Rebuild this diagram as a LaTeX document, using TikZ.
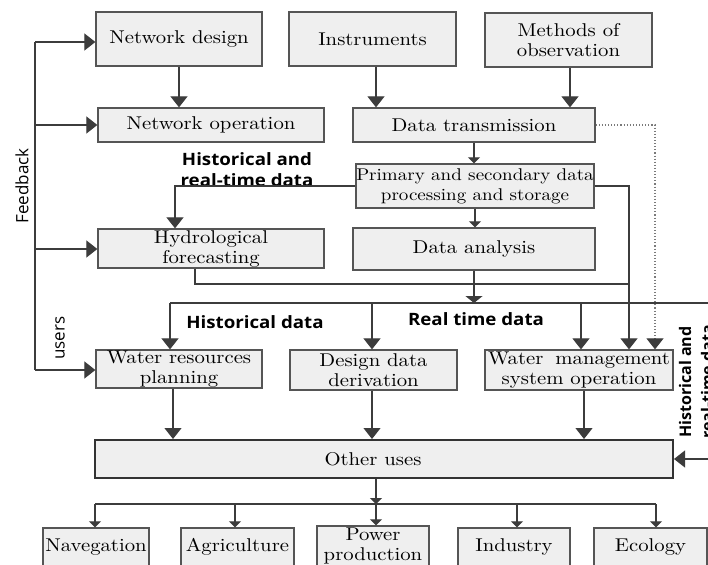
\documentclass[tikz,border=0pt]{standalone}
\usepackage{fontspec}
\newfontfamily\boxfont{lmroman10-regular.otf}[FakeStretch=1.12]
\newfontfamily\labfont{Open Sans}[FakeStretch=1.1]
\newfontfamily\rotfont{Open Sans}
\usetikzlibrary{arrows.meta}
\definecolor{boxfill}{HTML}{EFEFEF}
\definecolor{boxline}{HTML}{555555}
\definecolor{conn}{HTML}{3C3C3C}
\definecolor{dotc}{HTML}{7A7A7A}
\tikzset{
  box/.style={draw=boxline, line width=1.3pt, fill=boxfill, inner sep=0pt, align=center,
    font=\boxfont\fontsize{18.5}{20}\selectfont},
  bigbox/.style={box, draw=black!80, line width=2pt},
  conline/.style={draw=conn, line width=1.1pt},
  bigarrow/.style={conline, -{Triangle[width=17pt,length=11pt]}},
  flatarrow/.style={conline, -{Triangle[width=17pt,length=7pt]}},
  smallarrow/.style={conline, -{Triangle[width=12pt,length=6pt]}},
  lab/.style={font=\labfont\bfseries\fontsize{17}{21}\selectfont, inner sep=0pt, align=center},
  rotlab/.style={font=\rotfont\fontsize{17}{21}\selectfont, inner sep=0pt, rotate=90},
}
\begin{document}
\begin{tikzpicture}[x=1pt,y=-1pt]
\useasboundingbox[fill=white] (0,0) rectangle (708,564);

% top row
\node[box, minimum width=166pt, minimum height=54pt] (nd) at (179,39) {Network design};
\node[box, minimum width=167pt, minimum height=54pt] (ins) at (372.5,39) {Instruments};
\node[box, minimum width=167pt, minimum height=54pt] (mo) at (568.5,40) {Methods of\\observation};
% second row
\node[box, minimum width=226pt, minimum height=34pt] (no) at (211,125) {Network operation};
\node[box, minimum width=242pt, minimum height=34pt] (dt) at (474,125) {Data transmission};
\node[box, minimum width=238pt, minimum height=44pt, font=\boxfont\fontsize{17}{20}\selectfont] (pr) at (475,186) {Primary and secondary data\\processing and storage};
\node[box, minimum width=226pt, minimum height=39pt] (hf) at (211,248.5) {Hydrological\\forecasting};
\node[box, minimum width=242pt, minimum height=42pt] (da) at (474,249) {Data analysis};
% users row
\node[box, minimum width=166pt, minimum height=38pt] (wr) at (179,369) {Water resources\\planning};
\node[box, minimum width=167pt, minimum height=40pt] (dd) at (373.5,370) {Design data\\derivation};
\node[box, minimum width=188pt, minimum height=40pt] (wm) at (579,370) {Water\hspace{12pt}management\\system operation};
\node[bigbox, minimum width=578pt, minimum height=38pt] (ou) at (384,459) {Other uses\hspace*{22pt}};
% bottom row
\node[box, minimum width=106pt, minimum height=38pt] (nav) at (96,547) {Navegation};
\node[box, minimum width=113pt, minimum height=38pt] (agr) at (237.5,547) {Agriculture};
\node[box, minimum width=112pt, minimum height=40pt] (pow) at (373,546) {Power\\production};
\node[box, minimum width=112pt, minimum height=38pt] (ind) at (514,547) {Industry};
\node[box, minimum width=113pt, minimum height=38pt] (eco) at (650.5,547) {Ecology};

% labels
\node[lab] (l1) at (247,170) {Historical and\\real-time data};
\node[lab] (l2) at (255,322) {Historical data};
\node[lab] (l3) at (476,319) {Real time data};
\node[rotlab] (l4) at (22,186) {Feedback};
\node[rotlab] (l5) at (60,338) {users};
\node[lab, rotate=90, font=\rotfont\bfseries\fontsize{16}{22}\selectfont] (l6) at (696,382) {Historical and\\real-time data};

% coordinates
\coordinate (fb1) at (35,42);
\coordinate (fb2) at (35,125);
\coordinate (fb3) at (35,249);
\coordinate (fb4) at (35,370);
\coordinate (x175) at (175,0);
\coordinate (x195) at (195,0);
\coordinate (x629) at (629,0);
\coordinate (x655) at (655,0);
\coordinate (j1) at (629,284);
\coordinate (busL) at (170,303);
\coordinate (busDA) at (474,303);
\coordinate (busD2) at (372,303);
\coordinate (busD3) at (581,303);
\coordinate (busR) at (716,303);
\coordinate (x173) at (173,0);
\coordinate (x372) at (372,0);
\coordinate (x584) at (584,0);
\coordinate (x376) at (376,0);
\coordinate (x570) at (570,0);
\coordinate (bbL) at (95,504);
\coordinate (bbR) at (656,504);
\coordinate (bbM) at (376,504);
\coordinate (bb2) at (235,504);
\coordinate (bb4) at (517,504);

% feedback
\draw[conline] (fb1) -- (fb4);
\draw[bigarrow] (fb1) -- (nd.west |- fb1);
\draw[bigarrow] (fb2) -- (no.west |- fb2);
\draw[bigarrow] (fb3) -- (hf.west |- fb3);
\draw[bigarrow] (fb4) -- (wr.west |- fb4);

% top flows
\draw[bigarrow] (nd.south) -- (nd.south |- no.north);
\draw[bigarrow] (x376 |- ins.south) -- (x376 |- dt.north);
\draw[bigarrow] (x570 |- mo.south) -- (x570 |- dt.north);
\draw[smallarrow] (dt.south) -- (dt.south |- pr.north);
\draw[smallarrow] (pr.south) -- (pr.south |- da.north);
\draw[bigarrow] (pr.west) -| (x175 |- hf.north);
\draw[bigarrow] (pr.east) -| (x629 |- wm.north);
\draw[draw=dotc, line width=1.1pt, dotted, -{Triangle[width=17pt,length=11pt,color=conn]}] (dt.east) -| (x655 |- wm.north);
\draw[conline] (x195 |- hf.south) |- (j1);
\draw[flatarrow] (da.south) -- (busDA);

% real time bus
\draw[conline] (busL) -- (busR);
\draw[bigarrow] (busR) |- (ou.east);
\draw[bigarrow] (busL) -- (busL |- wr.north);
\draw[bigarrow] (busD2) -- (busD2 |- dd.north);
\draw[bigarrow] (busD3) -- (busD3 |- wm.north);

% to other uses
\draw[bigarrow] (x173 |- wr.south) -- (x173 |- ou.north);
\draw[bigarrow] (x372 |- dd.south) -- (x372 |- ou.north);
\draw[bigarrow] (x584 |- wm.south) -- (x584 |- ou.north);

% bottom distribution
\draw[smallarrow] (x376 |- ou.south) -- (bbM);
\draw[conline] (bbL) -- (bbR);
\draw[smallarrow] (bbL) -- (bbL |- nav.north);
\draw[smallarrow] (bb2) -- (bb2 |- agr.north);
\draw[smallarrow] (bbM) -- (bbM |- pow.north);
\draw[smallarrow] (bb4) -- (bb4 |- ind.north);
\draw[smallarrow] (bbR) -- (bbR |- eco.north);
\end{tikzpicture}
\end{document}
